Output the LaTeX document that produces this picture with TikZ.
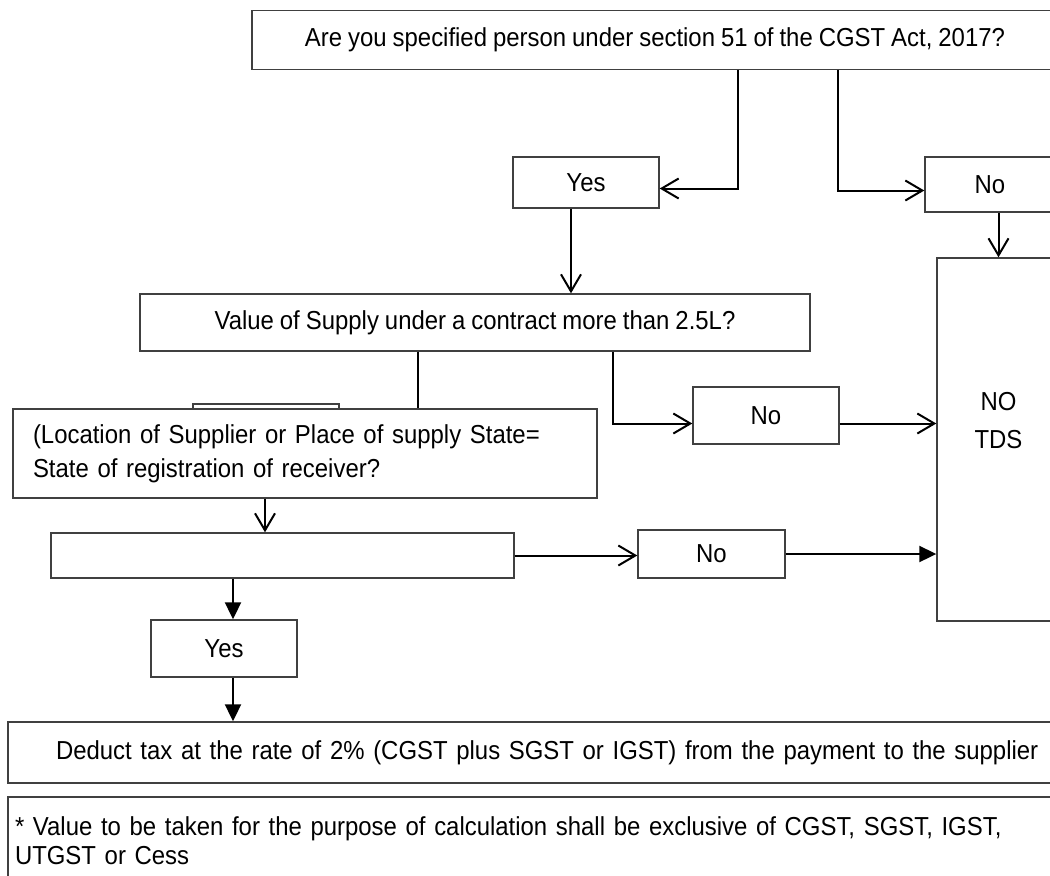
\documentclass[tikz,border=0pt]{standalone}
\usepackage{fontspec}
\setmainfont{Liberation Sans}[FakeStretch=0.92, WordSpace=0.9]
\usetikzlibrary{arrows.meta,positioning}

\begin{document}
\begin{tikzpicture}[x=0.5pt,y=-0.5pt,
  box/.style={draw=black!75, line width=0.7pt, fill=white, inner sep=0pt, font=\fontsize{13}{15}\selectfont},
  openarr/.style={-{Straight Barb[length=8.5pt,width=10pt]}, line width=1pt},
  fillarr/.style={-{Triangle[length=8.5pt,width=8pt]}, line width=1pt}]
\useasboundingbox (0,0) rectangle (1050,875);
\clip (0,0) rectangle (1050,875);

% boxes
\node[box, minimum width=403pt, minimum height=29.5pt](q51) at (655,40) {Are you specified person under section 51 of the CGST Act, 2017?};
\node[box, minimum width=73pt, minimum height=25.5pt](yes1) at (586,182.5) {Yes};
\node[box, minimum width=65pt, minimum height=27.5pt](no1) at (990,184.5) {No};
\node[box, minimum width=335pt, minimum height=28.5pt](value) at (475,322.5) {Value of Supply under a contract more than 2.5L?};
\node[box, minimum width=73pt, minimum height=36pt](stub) at (266,440) {};
\node[box, align=left, text width=272pt, inner xsep=10pt, minimum height=44.5pt, font=\fontsize{13}{17}\selectfont](loc) at (305,453.5) {(Location of Supplier or Place of supply State=\\State of registration of receiver?};
\node[box, minimum width=73pt, minimum height=28.5pt](no2) at (766,415.5) {No};
\node[box, minimum width=61.5pt, minimum height=181.5pt, label={[yshift=9.5pt, align=center, font=\fontsize{13}{19}\selectfont]center:NO\\TDS}](notds) at (998.5,439.5) {};
\node[box, minimum width=231.5pt, minimum height=22.5pt](blank) at (282.5,555.5) {};
\node[box, minimum width=73.5pt, minimum height=24pt](no3) at (711.5,554) {No};
\node[box, minimum width=73pt, minimum height=28.5pt](yes2) at (224,648.5) {Yes};
\node[box, align=left, text width=500pt, inner xsep=24pt, minimum height=30.5pt](deduct) at (556,752.5) {Deduct tax at the rate of 2\% (CGST plus SGST or IGST) from the payment to the supplier};
\node[box, align=left, text width=519pt, inner xsep=3.5pt, minimum height=44pt, font=\fontsize{13}{14.5}\selectfont](foot) at (534,841) {* Value to be taken for the purpose of calculation shall be exclusive of CGST, SGST, IGST,\\UTGST or Cess};

% connectors
\coordinate (ya) at ([xshift=41.5pt]q51.south);
\coordinate (na) at ([xshift=91.5pt]q51.south);
\draw[openarr] (ya) |- ([yshift=-3pt]yes1.east);
\draw[openarr] (na) |- ([yshift=-3pt]no1.west);
\coordinate (yb) at ([xshift=-7.5pt]yes1.south);
\draw[openarr] (yb) -- (yb |- value.north);
\draw[openarr] (notds.north |- no1.south) -- (notds.north);
\coordinate (vb) at ([xshift=69pt]value.south);
\draw[openarr] (vb) |- ([yshift=-4pt]no2.west);
\coordinate (vc) at ([xshift=-28.5pt]value.south);
\draw[line width=1pt] (vc) -- (vc |- loc.north);
\coordinate (nb) at ([yshift=-4pt]no2.east);
\draw[openarr] (nb) -- (nb -| notds.west);
\coordinate (lb) at ([xshift=-20pt]loc.south);
\draw[openarr] (lb) -- (lb |- blank.north);
\draw[openarr] (blank.east) -- (blank.east -| no3.west);
\draw[fillarr] (no3.east) -- (no3.east -| notds.west);
\coordinate (bb) at ([xshift=4.5pt]yes2.north);
\draw[fillarr] (bb |- blank.south) -- (bb);
\coordinate (yc) at ([xshift=4.5pt]yes2.south);
\draw[fillarr] (yc) -- (yc |- deduct.north);
\end{tikzpicture}
\end{document}
